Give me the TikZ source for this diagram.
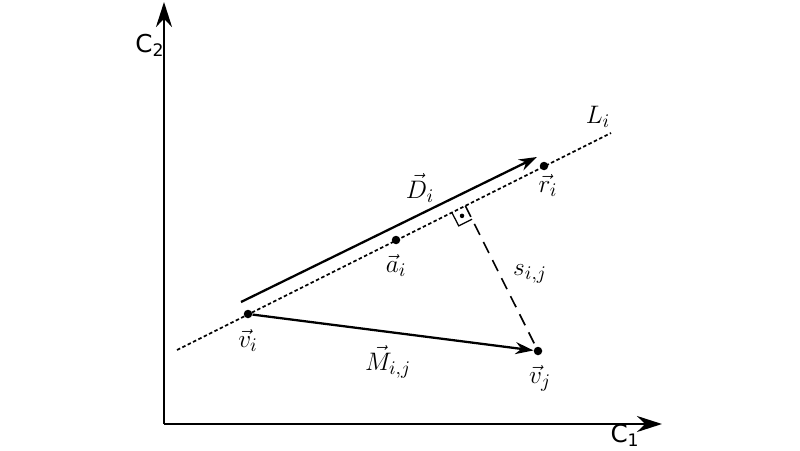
\documentclass[tikz,border=0pt]{standalone}
\usepackage{fontspec}
\setsansfont{DejaVu Sans}
\usetikzlibrary{arrows.meta}
\usetikzlibrary{calc}

\begin{document}
\begin{tikzpicture}[
      axis/.style={line width=1.3pt,-{Stealth[length=5mm,width=3.2mm]}},
      vecline/.style={line width=1.3pt,-{Stealth[length=3.6mm,width=2.4mm]}},
      fitline/.style={line width=1pt,dash pattern=on 2pt off 1.4pt},
      distline/.style={line width=0.9pt,dash pattern=on 7pt off 4.5pt},
      pt/.style={circle,fill,inner sep=0pt,minimum size=1.7mm},
      lbl/.style={font=\fontsize{15}{18}\selectfont},
      axlbl/.style={font=\fontsize{14}{17}\selectfont\sffamily},
    ]
    \useasboundingbox (0,0) rectangle (16,9);
    \coordinate (O) at (3.28,0.52);
    \coordinate (C2_end) at (3.28,8.96);
    \coordinate (C1_end) at (13.24,0.52);
    \coordinate (L_a) at (3.54,2.0);
    \coordinate (L_b) at (12.22,6.34);
    \coordinate (D_a) at (4.82,2.96);
    \coordinate (D_b) at (10.74,5.86);
    % Draw the axes.
    \draw[axis] (O) -- (C2_end);
    \draw[axis] (O) -- (C1_end);
    \node[axlbl] at (3.0,8.1) {C\textsubscript{2}};
    \node[axlbl] at (12.5,0.3) {C\textsubscript{1}};

    % Draw the line and its points.
    \draw[fitline] (L_a) -- (L_b);
    \node[lbl] at (11.96,6.66) {$L_i$};
    \node[pt] (vi) at (4.96,2.72) {};
    \node[pt] (ai) at (7.92,4.2) {};
    \node[pt] (ri) at (10.88,5.68) {};
    \node[pt] (vj) at (10.76,1.98) {};
    \node[lbl] at ([shift={+(0,-0.52)}] vi) {$\vec{v}_i$};
    \node[lbl] at ([shift={+(0,-0.5)}] ai) {$\vec{a}_i$};
    \node[lbl] at ([shift={+(0.08,-0.38)}] ri) {$\vec{r}_i$};
    \node[lbl] at ([shift={+(0.04,-0.54)}] vj) {$\vec{v}_j$};

    % Draw the vectors.
    \draw[vecline] (D_a) -- (D_b);
    \node[lbl] at (8.4,5.24) {$\vec{D}_i$};
    \draw[vecline] (vi) -- (vj);
    \node[lbl] at (7.76,1.76) {$\vec{M}_{i,j}$};

    % Draw the distance and the right angle.
    \coordinate (F) at ($ (L_a)!(vj)!(L_b) $);
    \coordinate (S1) at ($ (F)!0.3cm!(vi) $);
    \coordinate (S2) at ($ (F)!0.3cm!(vj) $);
    \coordinate (S3) at ($ (S1)+(S2)-(F) $);
    \draw[distline] (F) -- (vj);
    \draw[line width=0.7pt] (S1) -- (S3) -- (S2);
    \fill ($ (F)!0.5!(S3) $) circle (0.045);
    \node[lbl] at (10.6,3.52) {$s_{i,j}$};
\end{tikzpicture}
\end{document}
